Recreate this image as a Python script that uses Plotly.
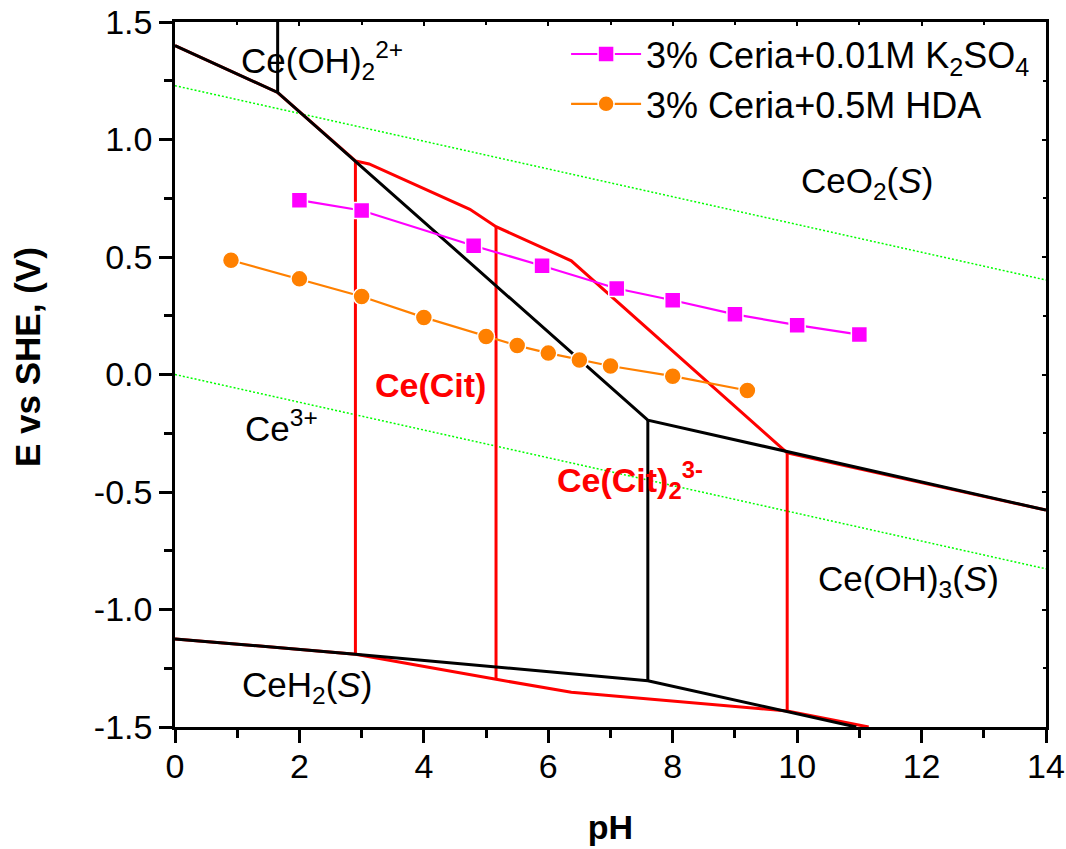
import plotly.graph_objects as go

# ---- data ----
ph_k2so4 = [2.0, 3.0, 4.8, 5.9, 7.1, 8.0, 9.0, 10.0, 11.0]
e_k2so4 = [0.742, 0.698, 0.548, 0.463, 0.366, 0.316, 0.256, 0.210, 0.170]

ph_hda = [0.9, 2.0, 3.0, 4.0, 5.0, 5.5, 6.0, 6.5, 7.0, 8.0, 9.2]
e_hda = [0.486, 0.407, 0.332, 0.243, 0.162, 0.123, 0.091, 0.062, 0.036, -0.007, -0.068]

# Ce-H2O Pourbaix boundaries (black)
ce_ph = [1.65, 1.65, None, 0, 1.65, 2.9, 7.6, 14, None, 7.6, 7.6, None, 0, 2.9, 7.6, 10.95]
ce_e = [1.5, 1.2, None, 1.4, 1.2, 0.907, -0.194, -0.577, None, -0.194, -1.303, None, -1.125, -1.19, -1.303, -1.5]

# Ce-citrate boundaries (red)
cit_ph = [0, 1.65, 2.9, 3.12, 4.74, 5.16, 6.37, 9.84, 14, None,
          2.9, 2.9, None, 5.16, 5.16, None, 9.84, 9.84, None,
          0, 2.9, 5.16, 6.37, 9.84, 11.15]
cit_e = [1.4, 1.2, 0.909, 0.896, 0.703, 0.629, 0.484, -0.334, -0.577, None,
         0.909, -1.19, None, 0.629, -1.297, None, -0.334, -1.432, None,
         -1.125, -1.19, -1.297, -1.352, -1.432, -1.5]

# water stability lines (green dotted)
water_ph = [0, 14]
o2_e = [1.229, 0.402]
h2_e = [0.0, -0.827]

x_ticks = [0, 2, 4, 6, 8, 10, 12, 14]
x_labels = ["0", "2", "4", "6", "8", "10", "12", "14"]
y_ticks = [-1.5, -1.0, -0.5, 0.0, 0.5, 1.0, 1.5]
y_labels = ["-1.5", "-1.0", "-0.5", "0.0", "0.5", "1.0", "1.5"]

# region labels
region_text = ["Ce(OH)<sub>2</sub><sup>2+</sup>", "CeO<sub>2</sub>(<i>S</i>)", "Ce<sup>3+</sup>",
               "Ce(Cit)", "Ce(Cit)<sub>2</sub><sup>3-</sup>", "Ce(OH)<sub>3</sub>(<i>S</i>)",
               "CeH<sub>2</sub>(<i>S</i>)"]
region_x = [1.03, 10.03, 1.09, 3.18, 6.11, 10.31, 1.04]
region_y = [1.335, 0.815, -0.219, -0.043, -0.449, -0.88, -1.33]
region_color = ["black", "black", "black", "red", "red", "black", "black"]
region_bold = [False, False, False, True, True, False, False]

FONT = "Arial, Liberation Sans, sans-serif"
W, H = 1066, 849
ML, MR, MT, MB = 175, 20, 22, 122

fig = go.Figure()

fig.add_trace(go.Scatter(x=water_ph, y=o2_e, mode="lines", showlegend=False,
                         line=dict(color="#00ff00", width=1.5, dash="2px,2px"), hoverinfo="skip"))
fig.add_trace(go.Scatter(x=water_ph, y=h2_e, mode="lines", showlegend=False,
                         line=dict(color="#00ff00", width=1.5, dash="2px,2px"), hoverinfo="skip"))
fig.add_trace(go.Scatter(x=cit_ph, y=cit_e, mode="lines", showlegend=False,
                         line=dict(color="#ff0000", width=3), connectgaps=False, hoverinfo="skip"))
fig.add_trace(go.Scatter(x=ce_ph, y=ce_e, mode="lines", showlegend=False,
                         line=dict(color="#000000", width=3), connectgaps=False, hoverinfo="skip"))

fig.add_trace(go.Scatter(x=ph_k2so4, y=e_k2so4, mode="lines+markers",
                         name="3% Ceria+0.01M K<sub>2</sub>SO<sub>4</sub>",
                         line=dict(color="#ff00ff", width=2.2),
                         marker=dict(symbol="square", size=16, color="#ff00ff",
                                     line=dict(color="white", width=1.5))))
fig.add_trace(go.Scatter(x=ph_hda, y=e_hda, mode="lines+markers",
                         name="3% Ceria+0.5M HDA",
                         line=dict(color="#ff8000", width=2.2),
                         marker=dict(symbol="circle", size=17, color="#ff8000",
                                     line=dict(color="white", width=1.5))))

for t, x, y, c, b in zip(region_text, region_x, region_y, region_color, region_bold):
    fig.add_annotation(x=x, y=y, xref="x", yref="y", text=(f"<b>{t}</b>" if b else t),
                       showarrow=False, xanchor="left", yanchor="middle",
                       font=dict(family=FONT, size=35 if not b else 34, color=c))

# y-axis title as rotated annotation (placed slightly above centre, as in the reference)
fig.add_annotation(text="<b>E vs SHE, (V)</b>", textangle=-90, showarrow=False,
                   xref="paper", yref="paper",
                   x=(27 - ML) / (W - ML - MR), y=(H - MB - 357) / (H - MB - MT),
                   xanchor="center", yanchor="middle",
                   font=dict(family=FONT, size=35, color="black"))

axis_common = dict(showline=True, linecolor="black", linewidth=2.5, showgrid=False, zeroline=False,
                   ticks="outside", ticklen=13, tickwidth=2.5, tickcolor="black", automargin=False,
                   tickfont=dict(family=FONT, size=34, color="black"))

fig.update_layout(
    width=W, height=H,
    margin=dict(l=ML, r=MR, t=MT, b=MB),
    paper_bgcolor="white", plot_bgcolor="white",
    font=dict(family=FONT, color="black"),
    xaxis=dict(range=[0, 14], tickmode="array", tickvals=x_ticks, ticktext=x_labels,
               minor=dict(tickmode="linear", tick0=0, dtick=1, ticks="outside", ticklen=8,
                          tickwidth=2.5, tickcolor="black"),
               title=dict(text="<b>pH</b>", font=dict(family=FONT, size=34), standoff=32),
               **axis_common),
    yaxis=dict(range=[-1.5, 1.5], tickmode="array", tickvals=y_ticks, ticktext=y_labels,
               minor=dict(tickmode="linear", tick0=0, dtick=0.25, ticks="outside", ticklen=8,
                          tickwidth=2.5, tickcolor="black"),
               **axis_common),
    xaxis2=dict(range=[0, 14], overlaying="x", side="top", anchor="y", showline=True,
                linecolor="black", linewidth=2.5, ticks="inside", ticklen=4, tickwidth=2,
                tickcolor="black", dtick=2, tick0=0, showticklabels=False, showgrid=False,
                zeroline=False, automargin=False,
                minor=dict(tickmode="linear", tick0=0, dtick=1, ticks="inside", ticklen=3,
                           tickwidth=2, tickcolor="black")),
    yaxis2=dict(range=[-1.5, 1.5], overlaying="y", side="right", anchor="x", showline=True,
                linecolor="black", linewidth=2.5, ticks="inside", ticklen=4, tickwidth=2,
                tickcolor="black", dtick=0.5, tick0=0, showticklabels=False, showgrid=False,
                zeroline=False, automargin=False,
                minor=dict(tickmode="linear", tick0=0, dtick=0.25, ticks="inside", ticklen=3,
                           tickwidth=2, tickcolor="black")),
    legend=dict(x=0.449, y=0.997, xanchor="left", yanchor="top", bgcolor="rgba(0,0,0,0)",
                itemwidth=70, font=dict(family=FONT, size=36, color="black"), tracegroupgap=0),
)

# bring x tick labels a little closer to the axis, as in the reference
try:
    fig.update_xaxes(ticklabelstandoff=-6, selector=dict(anchor="y", side=None))
    fig.layout.xaxis.ticklabelstandoff = -6
except Exception:
    pass

# invisible trace to make the mirrored axes render
fig.add_trace(go.Scatter(x=[None], y=[None], xaxis="x2", yaxis="y2", showlegend=False,
                         hoverinfo="skip"))

fig.write_html("out.html")
